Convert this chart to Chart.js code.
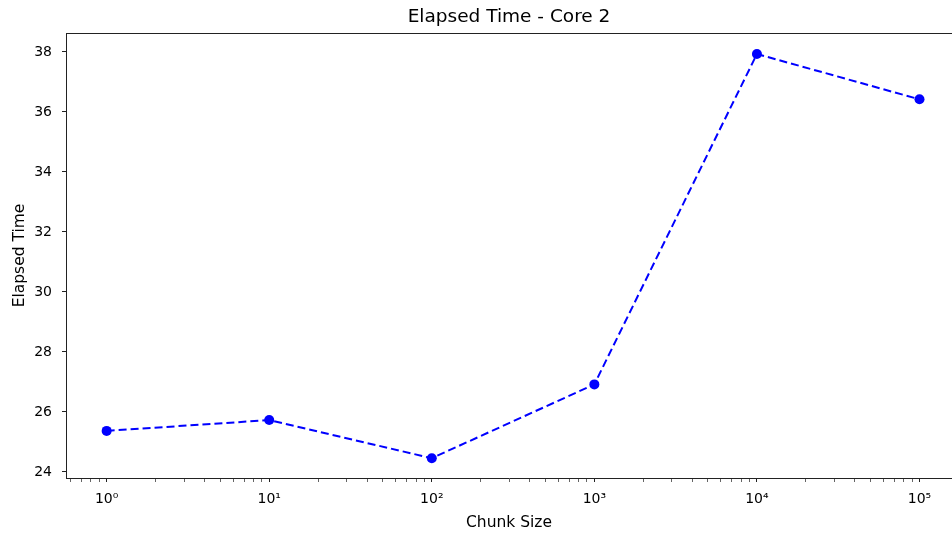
<!DOCTYPE html>
<html><head><meta charset="utf-8">
<script src="https://cdn.jsdelivr.net/npm/chart.js@4/dist/chart.umd.min.js"></script>
<style>html,body{margin:0;padding:0;background:#fff;overflow:hidden}</style>
</head><body>
<canvas id="c" width="952" height="534" style="display:block;width:952px;height:534px"></canvas>
<script>
const chartTitle = 'Elapsed Time - Core 2';
const xAxisLabel = 'Chunk Size';
const yAxisLabel = 'Elapsed Time';
const chunkSizes = [1, 10, 100, 1000, 10000, 100000];
const elapsedTimes = [25.37, 25.73, 24.46, 26.92, 37.93, 36.42];
const yTickValues = [24, 26, 28, 30, 32, 34, 36, 38];
const xMajorTickValues = [1, 10, 100, 1000, 10000, 100000];
const xRange = [0.5623, 158489];
const yRange = [23.8, 38.63];

const SUP = {'0':'\u2070','1':'\u00B9','2':'\u00B2','3':'\u00B3','4':'\u2074','5':'\u2075','6':'\u2076','7':'\u2077','8':'\u2078','9':'\u2079','-':'\u207B'};
function supLabel(v){ const e = Math.round(Math.log10(v)); return '10' + String(e).split('').map(c=>SUP[c]).join(''); }

const xMinorTickValues = [];
for (let e = -1; e <= 5; e++) for (let m = 2; m <= 9; m++) {
  const v = m * Math.pow(10, e);
  if (v > xRange[0] && v < xRange[1]) xMinorTickValues.push(v);
}
const isMajor = v => xMajorTickValues.some(t => Math.abs(t - v) < 1e-9 * t);

Chart.defaults.font.family = "'DejaVu Sans', sans-serif";
Chart.defaults.color = '#000';

const topSpine = {
  id: 'topSpine',
  afterDraw(chart) {
    const {ctx, chartArea} = chart;
    ctx.save();
    ctx.strokeStyle = '#222';
    ctx.lineWidth = 1;
    ctx.beginPath();
    const y = Math.round(chartArea.top) + 0.5;
    ctx.moveTo(chartArea.left, y);
    ctx.lineTo(chartArea.right, y);
    ctx.stroke();
    ctx.restore();
  }
};

new Chart(document.getElementById('c'), {
  type: 'line',
  data: {
    datasets: [{
      data: chunkSizes.map((x, i) => ({x: x, y: elapsedTimes[i]})),
      borderColor: '#0000ff',
      backgroundColor: '#0000ff',
      borderWidth: 2,
      borderDash: [8, 4],
      pointRadius: 5,
      pointBorderWidth: 0,
      pointBackgroundColor: '#0000ff',
      tension: 0,
      fill: false,
      clip: false
    }]
  },
  options: {
    responsive: false,
    animation: false,
    devicePixelRatio: 1,
    layout: {padding: 0, autoPadding: false},
    plugins: {
      legend: {display: false},
      tooltip: {enabled: false},
      title: {
        display: true, text: chartTitle, fullSize: false,
        font: {size: 18.5, weight: 'normal'}, color: '#000',
        padding: {top: 6, bottom: 4.8}
      }
    },
    scales: {
      x: {
        type: 'logarithmic', position: 'bottom',
        min: xRange[0], max: xRange[1],
        afterBuildTicks(scale) {
          const vals = xMajorTickValues.concat(xMinorTickValues).sort((a, b) => a - b);
          scale.ticks = vals.map(v => ({value: v, major: isMajor(v)}));
        },
        afterFit(scale) { scale.height = 56; scale.paddingLeft = 0; scale.paddingRight = 0; },
        ticks: {
          autoSkip: false, maxRotation: 0, minRotation: 0, padding: 9,
          font: {size: 14}, color: '#000',
          callback: (v) => isMajor(v) ? supLabel(v) : ''
        },
        grid: {
          drawOnChartArea: false, drawTicks: true, tickLength: 4,
          tickColor: '#222',
          tickWidth: (ctx) => (ctx.tick && ctx.tick.major) ? 1 : 0.7
        },
        border: {display: true, color: '#222', width: 1},
        title: {display: true, text: xAxisLabel, font: {size: 15.5}, color: '#000', padding: {top: 0, bottom: 2}}
      },
      y: {
        type: 'linear', position: 'left',
        min: yRange[0], max: yRange[1],
        afterBuildTicks(scale) { scale.ticks = yTickValues.map(v => ({value: v})); },
        afterFit(scale) { scale.width = 66; scale.paddingTop = 0; scale.paddingBottom = 0; },
        ticks: {padding: 10, font: {size: 14}, color: '#000', callback: (v) => String(v)},
        grid: {drawOnChartArea: false, drawTicks: true, tickLength: 4, tickColor: '#222', tickWidth: 1},
        border: {display: true, color: '#222', width: 1},
        title: {display: true, text: yAxisLabel, font: {size: 15.5}, color: '#000', padding: {top: 11, bottom: 0}}
      }
    }
  },
  plugins: [topSpine]
});
</script>
</body></html>
